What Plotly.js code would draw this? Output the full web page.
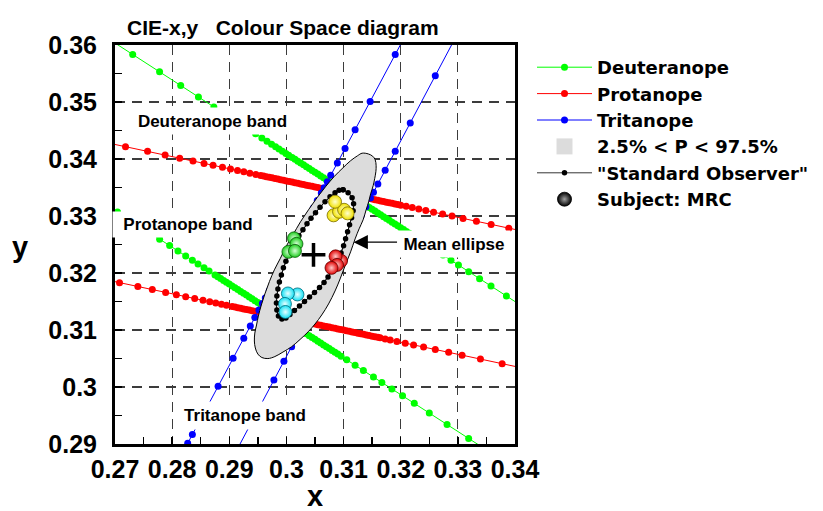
<!DOCTYPE html>
<html><head><meta charset="utf-8">
<script src="https://cdn.plot.ly/plotly-3.0.1.min.js"></script>
<style>html,body{margin:0;padding:0;background:#fff;}#chart{width:823px;height:511px;}</style>
</head><body><div id="chart"></div>
<script>
// ---------- data (CIE x, y) ----------
const deutX1 = [0.2687,0.2731,0.2778,0.2815,0.2846,0.2873,0.2897,0.2918,0.2934,0.2946,0.2957,0.2966,0.2974,0.2981,0.2987,0.2993,0.2999,0.3004,0.3010,
 0.3015,0.3020,0.3025,0.3030,0.3035,0.3040,0.3045,0.3050,0.3055,0.3060,0.3065,0.3070,0.3075,0.3080,0.3085,0.3090,0.3095,0.3100,0.3105,0.3110,0.3115,0.3120,0.3125,0.3130,0.3135,0.3140,0.3145,0.3150,0.3155,0.3160,0.3165,0.3170,0.3175,0.3180,0.3185,0.3190,0.3195,0.3200,0.3205,0.3210,0.3215,0.3220,
 0.3226,0.3232,0.3239,0.3246,0.3254,0.3263,0.3274,0.3288,0.3301,0.3319,0.3338,0.3358,0.3385,0.3413];
const deutY1 = [0.36119,0.35834,0.35530,0.35290,0.35089,0.34914,0.34759,0.34623,0.34519,0.34441,0.34370,0.34311,0.34260,0.34214,0.34175,0.34137,0.34098,0.34065,0.34026,
 0.33994,0.33962,0.33929,0.33897,0.33864,0.33832,0.33799,0.33767,0.33735,0.33702,0.33670,0.33637,0.33605,0.33573,0.33540,0.33508,0.33475,0.33443,0.33410,0.33378,0.33346,0.33313,0.33281,0.33248,0.33216,0.33184,0.33151,0.33119,0.33086,0.33054,0.33022,0.32989,0.32957,0.32924,0.32892,0.32859,0.32827,0.32795,0.32762,0.32730,0.32697,0.32665,
 0.32626,0.32587,0.32542,0.32496,0.32444,0.32386,0.32315,0.32224,0.32141,0.32024,0.31901,0.31771,0.31596,0.31415];

const deutX2 = [0.26728,0.27044,0.27342,0.27579,0.27781,0.27956,0.28102,0.28237,0.28354,0.28453,0.28558,0.28646,
 0.2875,0.2880,0.2885,0.2890,0.2895,0.2900,0.2905,0.2910,0.2915,0.2920,0.2925,0.2930,0.2935,0.2940,0.2945,0.2950,0.2955,0.2960,0.2965,0.2970,0.2975,0.2980,0.2985,0.2990,0.2995,0.3000,0.3005,0.3010,0.3015,0.3020,0.3025,0.3030,0.3035,0.3040,0.3045,0.3050,0.3055,0.3060,0.3065,0.3070,0.3075,0.3080,0.3085,0.3090,
 0.30956,0.31056,0.31202,0.31347,0.31523,0.31670,0.31846,0.32032,0.32237,0.32500,0.32811,0.33189,0.33570];
const deutY2 = [0.33275,0.33071,0.32878,0.32725,0.32594,0.32481,0.32386,0.32299,0.32223,0.32159,0.32092,0.32035,
 0.31967,0.31935,0.31903,0.31870,0.31838,0.31806,0.31773,0.31741,0.31709,0.31677,0.31644,0.31612,0.31580,0.31547,0.31515,0.31483,0.31450,0.31418,0.31386,0.31353,0.31321,0.31289,0.31256,0.31224,0.31192,0.31159,0.31127,0.31095,0.31062,0.31030,0.30998,0.30965,0.30933,0.30901,0.30868,0.30836,0.30804,0.30772,0.30739,0.30707,0.30675,0.30642,0.30610,0.30578,
 0.30541,0.30476,0.30382,0.30288,0.30174,0.30079,0.29966,0.29845,0.29713,0.29543,0.29342,0.29097,0.28851];

const protX1 = [0.26868,0.27184,0.27570,0.27877,0.28132,0.28365,0.28558,0.28716,0.28881,0.29021,0.29144,0.29254,0.29360,0.29465,
 0.2955,0.2960,0.2965,0.2970,0.2975,0.2980,0.2985,0.2990,0.2995,0.3000,0.3005,0.3010,0.3015,0.3020,0.3025,0.3030,0.3035,0.3040,0.3045,0.3050,0.3055,0.3060,0.3065,0.3070,0.3075,0.3080,0.3085,0.3090,0.3095,0.3100,0.3105,0.3110,0.3115,0.3120,0.3125,0.3130,0.3135,0.3140,0.3145,0.3150,0.3155,0.3160,0.3165,0.3170,0.3175,0.3180,0.3185,0.3190,0.3195,0.3200,
 0.32096,0.32202,0.32316,0.32439,0.32575,0.32733,0.32898,0.33091,0.33325,0.33582,0.33891,0.34219];
const protY1 = [0.34283,0.34216,0.34134,0.34068,0.34014,0.33964,0.33923,0.33890,0.33854,0.33825,0.33798,0.33775,0.33752,0.33730,
 0.33712,0.33701,0.33690,0.33680,0.33669,0.33659,0.33648,0.33637,0.33627,0.33616,0.33605,0.33595,0.33584,0.33573,0.33563,0.33552,0.33541,0.33531,0.33520,0.33510,0.33499,0.33488,0.33478,0.33467,0.33456,0.33446,0.33435,0.33424,0.33414,0.33403,0.33392,0.33382,0.33371,0.33360,0.33350,0.33339,0.33329,0.33318,0.33307,0.33297,0.33286,0.33275,0.33265,0.33254,0.33243,0.33233,0.33222,0.33211,0.33201,0.33190,
 0.33169,0.33147,0.33122,0.33096,0.33067,0.33034,0.32998,0.32957,0.32907,0.32853,0.32787,0.32717];

const protX2 = [0.26728,0.27079,0.27400,0.27653,0.27886,0.28074,0.28237,0.28395,0.28540,0.28658,0.28763,0.28863,0.28951,
 0.2905,0.2910,0.2915,0.2920,0.2925,0.2930,0.2935,0.2940,0.2945,0.2950,0.2955,0.2960,0.2965,0.2970,0.2975,0.2980,0.2985,0.2990,0.2995,0.3000,0.3005,0.3010,0.3015,0.3020,0.3025,0.3030,0.3035,0.3040,0.3045,0.3050,0.3055,0.3060,0.3065,0.3070,0.3075,0.3080,0.3085,0.3090,0.3095,0.3100,0.3105,0.3110,0.3115,0.3120,0.3125,0.3130,0.3135,0.3140,0.3145,0.3150,0.3155,0.3160,
 0.31640,0.31728,0.31816,0.31933,0.32079,0.32225,0.32400,0.32605,0.32839,0.33074,0.33395,0.33775,0.34219];
const protY2 = [0.31906,0.31831,0.31763,0.31709,0.31660,0.31620,0.31585,0.31552,0.31521,0.31496,0.31473,0.31452,0.31433,
 0.31412,0.31402,0.31391,0.31380,0.31370,0.31359,0.31349,0.31338,0.31327,0.31317,0.31306,0.31296,0.31285,0.31274,0.31264,0.31253,0.31242,0.31232,0.31221,0.31211,0.31200,0.31189,0.31179,0.31168,0.31157,0.31147,0.31136,0.31126,0.31115,0.31104,0.31094,0.31083,0.31072,0.31062,0.31051,0.31041,0.31030,0.31019,0.31009,0.30998,0.30987,0.30977,0.30966,0.30956,0.30945,0.30934,0.30924,0.30913,0.30902,0.30892,0.30881,0.30871,
 0.30862,0.30844,0.30825,0.30800,0.30769,0.30738,0.30701,0.30657,0.30608,0.30558,0.30490,0.30409,0.30315];

const tritX1 = [0.28272,0.28354,0.28804,0.29067,0.29254,0.29368,0.29447,0.29518,0.29579,
 0.2963,0.2970,0.2977,0.2984,0.2991,0.2998,0.3005,0.3012,0.3019,0.3026,0.3033,0.3040,0.3047,0.3054,0.3061,0.3066,
 0.30716,0.30775,0.30891,0.31026,0.31202,0.31465,0.31904,0.32342];
const tritY1 = [0.29012,0.29166,0.30011,0.30505,0.30856,0.31070,0.31219,0.31352,0.31467,
 0.31562,0.31694,0.31825,0.31957,0.32088,0.32220,0.32351,0.32483,0.32614,0.32746,0.32877,0.33008,0.33140,0.33271,0.33403,0.33497,
 0.33602,0.33713,0.33931,0.34184,0.34515,0.35009,0.35833,0.36656];

const tritX2 = [0.29114,0.29781,0.29956,0.30091,0.30175,0.30237,0.30289,
 0.3035,0.3043,0.3051,0.3059,0.3067,0.3075,0.3083,0.3091,0.3099,0.3107,0.3115,0.3123,0.3131,0.3139,0.3147,
 0.31523,0.31600,0.31728,0.31904,0.32167,0.32605,0.33132];
const tritY2 = [0.28860,0.30121,0.30452,0.30707,0.30866,0.30983,0.31082,
 0.31197,0.31348,0.31500,0.31651,0.31802,0.31953,0.32105,0.32256,0.32407,0.32559,0.32710,0.32861,0.33012,0.33164,0.33315,
 0.33415,0.33561,0.33803,0.34136,0.34633,0.35461,0.36458];

// 2.5% < P < 97.5% region (outer boundary)
const pctX = [0.31325,0.31435,0.31509,0.31553,0.31570,0.31565,0.31544,0.31518,0.31474,0.31439,0.31395,0.31342,0.31272,0.31202,0.31123,0.31026,0.30939,0.30851,0.30737,0.30618,0.30500,0.30382,0.30237,0.30091,0.29939,0.29798,0.29675,0.29570,0.29500,0.29456,0.29439,0.29447,0.29477,0.29509,0.29561,0.29623,0.29702,0.29789,0.29895,0.30000,0.30114,0.30246,0.30386,0.30535,0.30684,0.30833,0.30991,0.31123,0.31246,0.31325];
const pctY = [0.34102,0.34088,0.34049,0.33988,0.33882,0.33777,0.33654,0.33531,0.33390,0.33250,0.33109,0.32933,0.32775,0.32599,0.32371,0.32125,0.31896,0.31685,0.31457,0.31264,0.31105,0.30970,0.30833,0.30707,0.30613,0.30534,0.30499,0.30517,0.30578,0.30684,0.30807,0.30947,0.31088,0.31246,0.31439,0.31633,0.31849,0.32055,0.32260,0.32476,0.32670,0.32898,0.33109,0.33320,0.33513,0.33689,0.33847,0.33970,0.34058,0.34102];

// "Standard Observer" ellipse
const soX = [0.30991,0.31079,0.31149,0.31175,0.31167,0.31140,0.31105,0.31070,0.31035,0.31000,0.30956,0.30912,0.30860,0.30798,0.30728,0.30658,0.30579,0.30491,0.30404,0.30316,0.30228,0.30140,0.30061,0.29991,0.29921,0.29860,0.29833,0.29825,0.29833,0.29851,0.29877,0.29912,0.29947,0.29991,0.30044,0.30096,0.30158,0.30219,0.30289,0.30360,0.30430,0.30509,0.30588,0.30675,0.30763,0.30851,0.30921,0.30991];
const soY = [0.33460,0.33408,0.33320,0.33214,0.33091,0.32968,0.32845,0.32722,0.32599,0.32476,0.32353,0.32248,0.32142,0.32037,0.31931,0.31835,0.31747,0.31659,0.31580,0.31501,0.31422,0.31343,0.31272,0.31211,0.31193,0.31246,0.31352,0.31475,0.31598,0.31721,0.31844,0.31967,0.32090,0.32204,0.32318,0.32432,0.32547,0.32652,0.32757,0.32863,0.32960,0.33056,0.33153,0.33250,0.33337,0.33408,0.33452,0.33460];

// Subject MRC
const subjYellowX = [0.30825,0.30921,0.31009,0.31070,0.30851];
const subjYellowY = [0.33012,0.33074,0.33109,0.33047,0.33250];
const subjGreenX = [0.30132,0.30175,0.30035,0.30149];
const subjGreenY = [0.32608,0.32511,0.32371,0.32388];
const subjRedX = [0.30956,0.30860,0.30886,0.30789];
const subjRedY = [0.32213,0.32292,0.32142,0.32090];
const subjCyanX = [0.30193,0.30026,0.29974,0.29982];
const subjCyanY = [0.31624,0.31641,0.31457,0.31316];

const meanX = [0.30474];
const meanY = [0.32318];

const xTickVals = [0.27,0.28,0.29,0.30,0.31,0.32,0.33,0.34];
const xTickText = ['0.27','0.28','0.29','0.3','0.31','0.32','0.33','0.34'];
const yTickVals = [0.29,0.30,0.31,0.32,0.33,0.34,0.35,0.36];
const yTickText = ['0.29','0.3','0.31','0.32','0.33','0.34','0.35','0.36'];

// ---------- traces ----------
const ARIAL = 'Liberation Sans, Arial, sans-serif';
function confLine(x, y, color, name, show, rank) {
  return {type:'scatter', mode:'lines+markers', x:x, y:y, name:name, showlegend:show, legendrank:rank,
    line:{color:color, width:1}, marker:{color:color, size:7}, hoverinfo:'skip'};
}
function spheres(x, y, c, light, dark) {
  return {type:'scatter', mode:'markers', x:x, y:y, showlegend:false, hoverinfo:'skip',
    marker:{size:13, color:c, gradient:{type:'radial', color:light}, line:{color:dark, width:0.8}}};
}
const traces = [
  confLine(deutX1, deutY1, '#00ff00', 'Deuteranope', true, 1),
  confLine(deutX2, deutY2, '#00ff00', 'Deuteranope', false, 1),
  confLine(protX1, protY1, '#ff0000', 'Protanope', true, 2),
  confLine(protX2, protY2, '#ff0000', 'Protanope', false, 2),
  confLine(tritX1, tritY1, '#0000ff', 'Tritanope', true, 3),
  confLine(tritX2, tritY2, '#0000ff', 'Tritanope', false, 3),
  {type:'scatter', mode:'lines', x:pctX, y:pctY, fill:'toself', fillcolor:'#dcdcdc',
   line:{color:'black', width:1, shape:'spline', smoothing:1}, showlegend:false, hoverinfo:'skip'},
  {type:'scatter', mode:'lines', x:soX, y:soY, fill:'toself', fillcolor:'white',
   line:{color:'black', width:0.8, shape:'spline', smoothing:1}, showlegend:false, hoverinfo:'skip'},
  {type:'scatter', mode:'lines+markers', x:soX, y:soY, name:'"Standard Observer"', legendrank:5,
   line:{color:'black', width:0.8}, marker:{color:'black', size:5.5}, hoverinfo:'skip'},
  spheres(subjYellowX, subjYellowY, '#f0e000', '#ffffd0', '#7a6c00'),
  spheres(subjGreenX, subjGreenY, '#1ecc1e', '#d8ffd8', '#0a5a0a'),
  spheres(subjRedX, subjRedY, '#e00000', '#ffc8c8', '#600000'),
  spheres(subjCyanX, subjCyanY, '#14e0f4', '#e8ffff', '#006a7a'),
  {type:'scatter', mode:'markers', x:meanX, y:meanY, showlegend:false, hoverinfo:'skip',
   marker:{symbol:'cross-thin', size:17, color:'black', line:{color:'black', width:3.5}}},
  {type:'scatter', mode:'markers', x:[null], y:[null], name:'2.5% < P < 97.5%', legendrank:4,
   marker:{symbol:'square', size:16, color:'#dcdcdc', line:{width:0}}},
  {type:'scatter', mode:'markers', x:[null], y:[null], name:'Subject: MRC', legendrank:6,
   marker:{size:14, color:'black', gradient:{type:'radial', color:'#a0a0a0'}, line:{color:'black', width:0.8}}}
];

const axisCommon = {
  showline:true, linewidth:3, linecolor:'black', mirror:true,
  ticks:'inside', ticklen:7, tickwidth:1.5, tickcolor:'black',
  showgrid:true, gridcolor:'#3c3c3c', gridwidth:1.2, griddash:'10px,7px',
  zeroline:false, fixedrange:true, tickmode:'array',
  tickfont:{family:ARIAL, size:25, weight:'bold', color:'black'},
  ticklabelstandoff:10,
  minor:{dtick:0.005, tick0:0.27, ticks:'inside', ticklen:7, tickwidth:1.5, tickcolor:'black', showgrid:false}
};
const bandFont = {family:ARIAL, size:17, weight:'bold', color:'black'};
const labelFont = {family:ARIAL, size:29, weight:'bold', color:'black'};
const layout = {
  width:823, height:511,
  margin:{l:115, r:308, t:45, b:67},
  paper_bgcolor:'white', plot_bgcolor:'white',
  showlegend:true,
  title:{text:'CIE-x,y\u00a0\u00a0\u00a0Colour Space diagram', xref:'container', x:127/823, xanchor:'left',
         yref:'container', y:1-28/511, yanchor:'middle',
         font:{family:ARIAL, size:21, weight:'bold', color:'black'}},
  xaxis:Object.assign({}, axisCommon, {range:[0.27,0.34], tickvals:xTickVals, ticktext:xTickText,
         ticklabelstandoff:1}),
  yaxis:Object.assign({}, axisCommon, {range:[0.29,0.36], tickvals:yTickVals, ticktext:yTickText,
         minor:Object.assign({}, axisCommon.minor, {tick0:0.29})}),
  legend:{xref:'container', x:532/823, xanchor:'left', yref:'container', y:1-49/511, yanchor:'top',
          font:{family:'DejaVu Sans, sans-serif', size:18, weight:'bold', color:'black'},
          itemwidth:55, bgcolor:'rgba(0,0,0,0)', borderwidth:0, tracegroupgap:0, traceorder:'normal'},
  annotations:[
    {xref:'paper', yref:'paper', x:(20-115)/400, y:(444-247)/399, text:'y', showarrow:false,
     xanchor:'center', yanchor:'middle', font:labelFont},
    {xref:'paper', yref:'paper', x:0.5, y:(444-496)/399, text:'x', showarrow:false,
     xanchor:'center', yanchor:'middle', height:26, valign:'middle', font:labelFont},
    {xref:'x', yref:'y', x:0.31175, y:0.32541, ax:45, ay:0, axref:'pixel', ayref:'pixel', text:'',
     showarrow:true, arrowhead:2, arrowsize:2.2, arrowwidth:1.3, arrowcolor:'black'},
    {xref:'x', yref:'y', x:0.28702, y:0.34668, text:'Deuteranope band', showarrow:false,
     bgcolor:'white', width:165, height:26, borderpad:0, font:bandFont},
    {xref:'x', yref:'y', x:0.28272, y:0.32854, text:'Protanope band', showarrow:false,
     bgcolor:'white', width:150, height:25, borderpad:0, font:bandFont},
    {xref:'x', yref:'y', x:0.32939, y:0.32511, text:'Mean ellipse', showarrow:false,
     bgcolor:'white', width:112, height:26, borderpad:0, font:bandFont},
    {xref:'x', yref:'y', x:0.29272, y:0.29506, text:'Tritanope band', showarrow:false,
     bgcolor:'white', width:130, height:27, borderpad:0, font:bandFont}
  ]
};
Plotly.newPlot('chart', traces, layout, {staticPlot:true, displayModeBar:false});
</script></body></html>
